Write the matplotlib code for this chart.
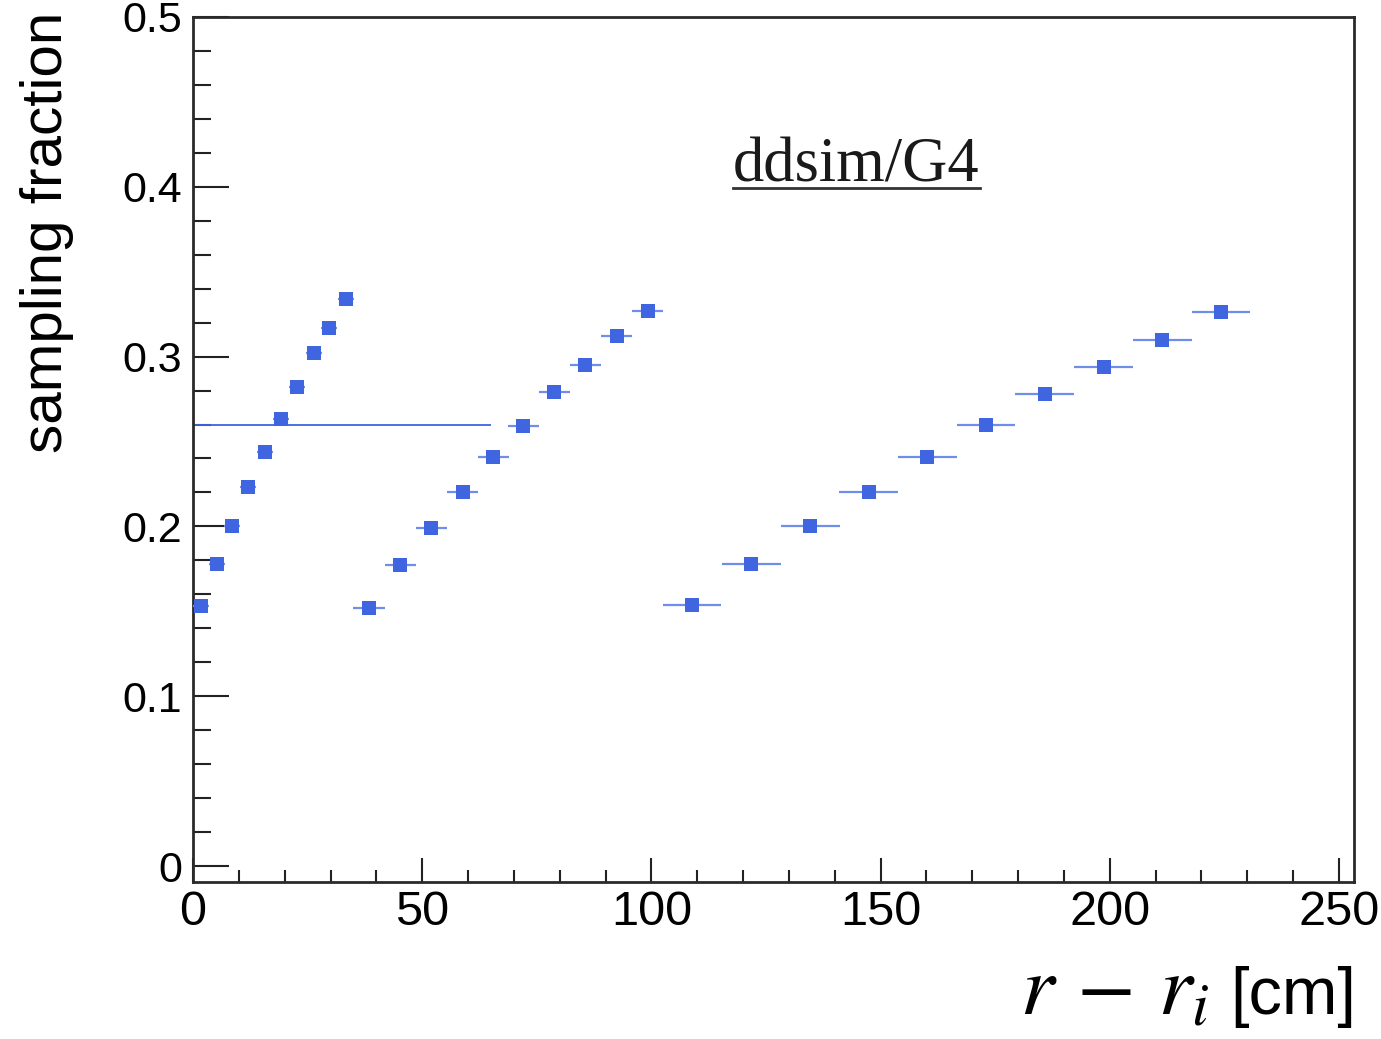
import matplotlib
matplotlib.use('Agg')
import matplotlib.pyplot as plt
from matplotlib.lines import Line2D
from matplotlib.ticker import MultipleLocator, FormatStrFormatter

# sampling fraction vs depth, three layer groups
layer1_x = [1.7, 5.2, 8.6, 12.1, 15.7, 19.2, 22.7, 26.3, 29.7, 33.4]
layer1_xerr = [1.75] * 10
layer1_y = [0.153, 0.178, 0.200, 0.223, 0.244, 0.263, 0.282, 0.302, 0.317, 0.334]

layer2_x = [38.4, 45.2, 52.0, 58.8, 65.5, 72.1, 78.8, 85.6, 92.4, 99.2]
layer2_xerr = [3.4] * 10
layer2_y = [0.152, 0.177, 0.199, 0.220, 0.241, 0.259, 0.279, 0.295, 0.312, 0.327]

layer3_x = [108.9, 121.8, 134.7, 147.4, 160.2, 173.0, 185.8, 198.7, 211.5, 224.3]
layer3_xerr = [6.4] * 10
layer3_y = [0.154, 0.178, 0.200, 0.220, 0.241, 0.260, 0.278, 0.294, 0.310, 0.326]

ref_level = 0.26
ref_xmax = 65

plt.rcParams['font.family'] = ['Liberation Sans', 'DejaVu Sans']
plt.rcParams['mathtext.fontset'] = 'stix'

W, H = 1381, 1039
fig = plt.figure(figsize=(W / 100, H / 100), dpi=100)
ax = fig.add_axes([193 / W, 1 - 882 / H, (1354 - 193) / W, (882 - 17) / H])

blue = '#3f66e0'
ebar = '#6f8eea'
for xs, xe, ys in [(layer1_x, layer1_xerr, layer1_y),
                   (layer2_x, layer2_xerr, layer2_y),
                   (layer3_x, layer3_xerr, layer3_y)]:
    ax.errorbar(xs, ys, xerr=xe, fmt='s', color=blue, ms=9.5, mew=0,
                ecolor=ebar, elinewidth=1.6, capsize=3.5, capthick=1.6, zorder=3)

ax.hlines(ref_level, 0, ref_xmax, color=blue, lw=1.3, zorder=2)

ax.set_xlim(0, 253.3)
ax.set_ylim(-0.0094, 0.5)

ax.xaxis.set_major_locator(MultipleLocator(50))
ax.xaxis.set_minor_locator(MultipleLocator(10))
ax.yaxis.set_major_locator(MultipleLocator(0.1))
ax.yaxis.set_minor_locator(MultipleLocator(0.02))
ax.yaxis.set_major_formatter(FormatStrFormatter('%g'))

ax.tick_params(which='both', direction='in', top=False, right=False,
               color='#222222', labelcolor='black', width=1.5)
ax.tick_params(axis='y', which='major', length=26, pad=8, labelsize=31)
ax.tick_params(axis='y', which='minor', length=13)
ax.tick_params(axis='x', which='major', length=17, pad=6, labelsize=35)
ax.tick_params(axis='x', which='minor', length=9)
for sp in ax.spines.values():
    sp.set_linewidth(2)
    sp.set_color('#2a2a2a')

fig.text(47 / W, 1 - 12 / H, 'sampling fraction', rotation=90,
         ha='center', va='top', fontsize=42)

fig.text(1356 / W, 1 - 1014 / H, '[cm]', ha='right', va='baseline', fontsize=48)
fig.text(1020 / W, 1 - 1014 / H, r'$r\,-\,r_{i}$', ha='left', va='baseline',
         fontsize=62)

t = ax.text((733 - 193) / (1354 - 193), (882 - 182) / (882 - 17), 'ddsim/G4',
            transform=ax.transAxes, ha='left', va='baseline', fontsize=45,
            family=['Liberation Serif', 'DejaVu Serif'], color='#1a1a1a')

fig.canvas.draw()
bb = t.get_window_extent()
uy = 1 - 188 / H
fig.add_artist(Line2D([bb.x0 / W, bb.x1 / W], [uy, uy], color='#333333', lw=2,
                      transform=fig.transFigure))

fig.savefig('out.png', dpi=100)
